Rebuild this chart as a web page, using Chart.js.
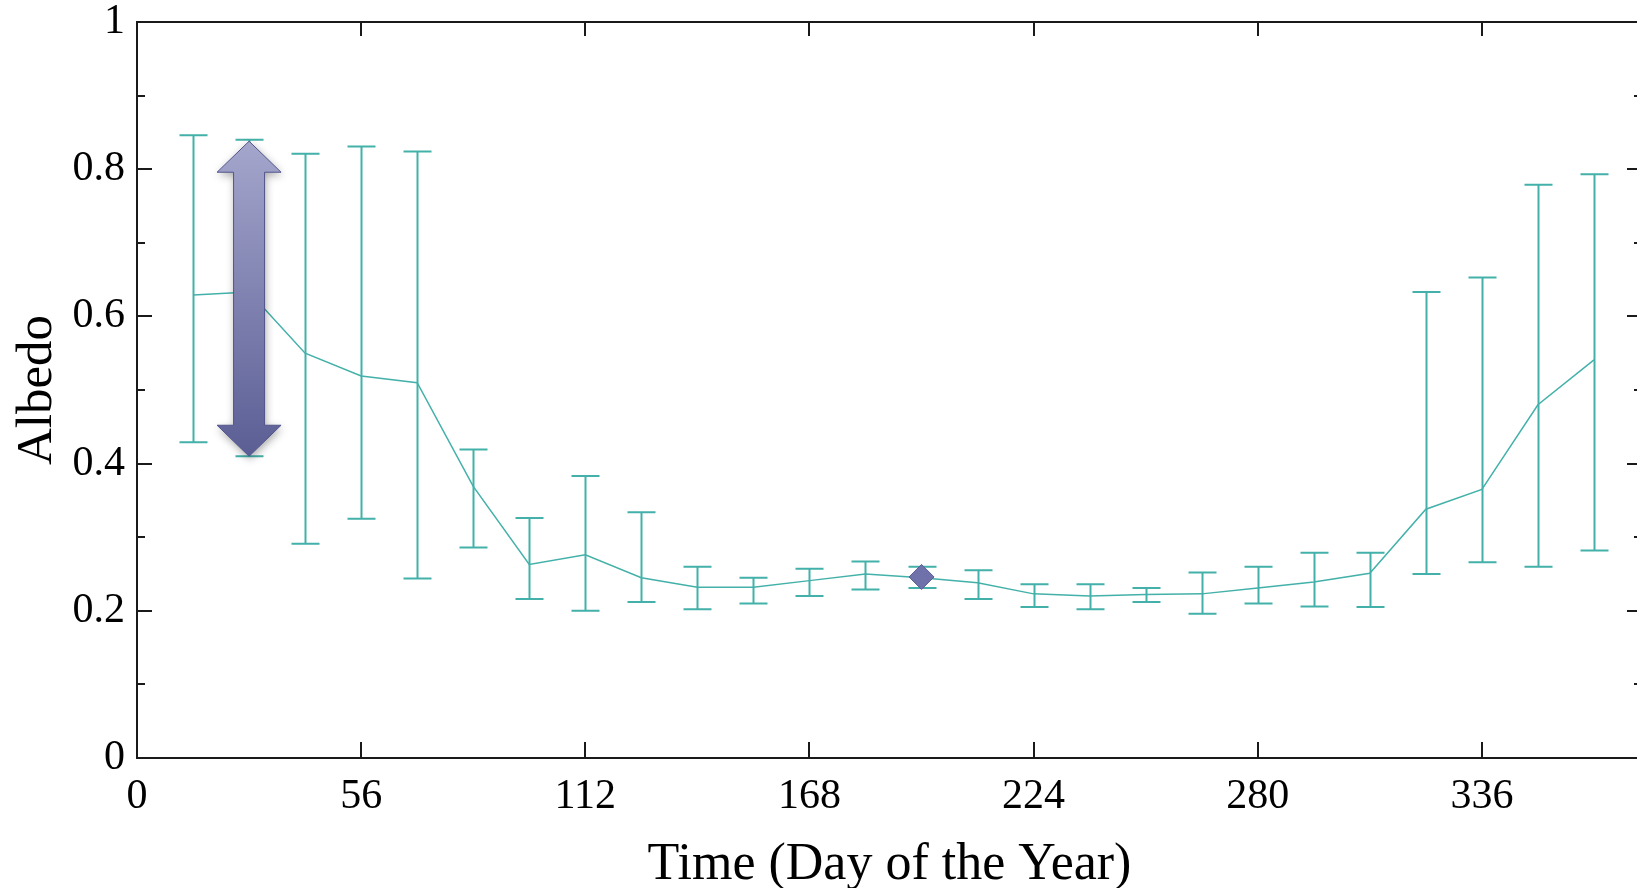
<!DOCTYPE html>
<html>
<head>
<meta charset="utf-8">
<script src="https://cdn.jsdelivr.net/npm/chart.js@4.4.1/dist/chart.umd.min.js"></script>
<style>
    html, body { margin: 0; padding: 0; background: #fff; overflow: hidden; }
    #albedoChart { display: block; }
</style>
</head>
<body>
<canvas id="albedoChart" width="1660" height="900" style="width:1660px;height:900px"></canvas>
<script>
// Day of year for each sample
var days = [14, 28, 42, 56, 70, 84, 98, 112, 126, 140, 154, 168, 182,
            196, 210, 224, 238, 252, 266, 280, 294, 308, 322, 336, 350, 364];
// Mean albedo
var albedoMean = [0.629, 0.633, 0.550, 0.519, 0.510, 0.369, 0.263, 0.276, 0.245, 0.232, 0.232, 0.241, 0.250,
                  0.245, 0.238, 0.223, 0.220, 0.222, 0.223, 0.231, 0.239, 0.251, 0.338, 0.365, 0.480, 0.541];
// Error bar ends
var albedoUpper = [0.846, 0.840, 0.821, 0.831, 0.824, 0.419, 0.326, 0.383, 0.334, 0.260, 0.245, 0.257, 0.267,
                   0.260, 0.255, 0.236, 0.236, 0.231, 0.252, 0.260, 0.279, 0.279, 0.633, 0.653, 0.779, 0.793];
var albedoLower = [0.429, 0.410, 0.291, 0.325, 0.244, 0.286, 0.216, 0.200, 0.212, 0.202, 0.210, 0.220, 0.229,
                   0.231, 0.216, 0.205, 0.202, 0.212, 0.196, 0.210, 0.206, 0.205, 0.250, 0.266, 0.260, 0.282];

// Axis ticks
var xTicks = [0, 56, 112, 168, 224, 280, 336];
var yTicks = [0, 0.2, 0.4, 0.6, 0.8, 1];
var yTickLabels = ['0', '0.2', '0.4', '0.6', '0.8', '1'];
var yMinorTicks = [0.1, 0.3, 0.5, 0.7, 0.9];

// Annotations: range arrow and diamond marker
var arrowDay = [28];
var arrowRange = [0.41, 0.838];
var markerDay = [196];
var markerValue = [0.246];

var teal = '#43b1a9';
var serif = "'Liberation Serif', 'Times New Roman', serif";

// error bars with caps
var errorBars = {
    id: 'errorBars',
    beforeDatasetsDraw: function (chart) {
        var ctx = chart.ctx, xs = chart.scales.x, ys = chart.scales.y;
        ctx.save();
        ctx.strokeStyle = teal;
        ctx.lineWidth = 2;
        for (var i = 0; i < days.length; i++) {
            var px = Math.round(xs.getPixelForValue(days[i])) + 0.5;
            var top = ys.getPixelForValue(albedoUpper[i]);
            var bot = ys.getPixelForValue(albedoLower[i]);
            ctx.beginPath();
            ctx.moveTo(px, top); ctx.lineTo(px, bot);
            ctx.moveTo(px - 14, top); ctx.lineTo(px + 14, top);
            ctx.moveTo(px - 14, bot); ctx.lineTo(px + 14, bot);
            ctx.stroke();
        }
        ctx.restore();
    }
};

// double headed arrow
var rangeArrow = {
    id: 'rangeArrow',
    afterDatasetsDraw: function (chart) {
        var ctx = chart.ctx, xs = chart.scales.x, ys = chart.scales.y;
        var cx = xs.getPixelForValue(arrowDay[0]);
        var y1 = ys.getPixelForValue(arrowRange[1]);
        var y2 = ys.getPixelForValue(arrowRange[0]);
        var head = 31, hw = 32, sw = 15.5;
        ctx.save();
        ctx.beginPath();
        ctx.moveTo(cx, y1);
        ctx.lineTo(cx + hw, y1 + head);
        ctx.lineTo(cx + sw, y1 + head);
        ctx.lineTo(cx + sw, y2 - head);
        ctx.lineTo(cx + hw, y2 - head);
        ctx.lineTo(cx, y2);
        ctx.lineTo(cx - hw, y2 - head);
        ctx.lineTo(cx - sw, y2 - head);
        ctx.lineTo(cx - sw, y1 + head);
        ctx.lineTo(cx - hw, y1 + head);
        ctx.closePath();
        var g = ctx.createLinearGradient(0, y1, 0, y2);
        g.addColorStop(0, '#a4a6cc');
        g.addColorStop(1, '#5b5e94');
        ctx.shadowColor = 'rgba(0,0,0,0.35)';
        ctx.shadowBlur = 8;
        ctx.shadowOffsetX = 1;
        ctx.shadowOffsetY = 3;
        ctx.fillStyle = g;
        ctx.fill();
        ctx.shadowColor = 'transparent';
        ctx.strokeStyle = '#52558c';
        ctx.lineWidth = 1;
        ctx.stroke();
        ctx.restore();
    }
};

// box frame with inward ticks
var frame = {
    id: 'frame',
    afterDraw: function (chart) {
        var ctx = chart.ctx, a = chart.chartArea, xs = chart.scales.x, ys = chart.scales.y;
        ctx.save();
        ctx.strokeStyle = '#1a1a1a';
        ctx.lineWidth = 2;
        ctx.strokeRect(a.left, a.top, a.right - a.left, a.bottom - a.top);
        ctx.beginPath();
        xTicks.forEach(function (v) {
            var px = Math.round(xs.getPixelForValue(v));
            ctx.moveTo(px, a.bottom); ctx.lineTo(px, a.bottom - 16);
            ctx.moveTo(px, a.top); ctx.lineTo(px, a.top + 14);
        });
        yTicks.forEach(function (v) {
            var py = Math.round(ys.getPixelForValue(v));
            ctx.moveTo(a.left, py); ctx.lineTo(a.left + 15, py);
            ctx.moveTo(a.right, py); ctx.lineTo(a.right - 15, py);
        });
        yMinorTicks.forEach(function (v) {
            var py = Math.round(ys.getPixelForValue(v));
            ctx.moveTo(a.left, py); ctx.lineTo(a.left + 8, py);
            ctx.moveTo(a.right, py); ctx.lineTo(a.right - 8, py);
        });
        ctx.stroke();
        ctx.restore();
    }
};

var ctx = document.getElementById('albedoChart').getContext('2d');
var albedoChart = new Chart(ctx, {
    type: 'line',
    data: {
        datasets: [{
            label: 'Albedo',
            data: days.map(function (d, i) { return { x: d, y: albedoMean[i] }; }),
            borderColor: teal,
            borderWidth: 1.5,
            pointRadius: 0,
            tension: 0,
            order: 2
        }, {
            type: 'scatter',
            label: 'Marker',
            data: markerDay.map(function (d, i) { return { x: d, y: markerValue[i] }; }),
            pointStyle: 'rectRot',
            pointRadius: 12.5,
            backgroundColor: '#6f71aa',
            borderColor: '#5a5c94',
            borderWidth: 1,
            order: 1
        }]
    },
    options: {
        responsive: false,
        animation: false,
        layout: { padding: { top: 22, right: 18, left: 0, bottom: 0 } },
        plugins: {
            legend: { display: false },
            tooltip: { enabled: false }
        },
        scales: {
            x: {
                type: 'linear',
                min: 0,
                max: 376,
                afterBuildTicks: function (s) { s.ticks = xTicks.map(function (v) { return { value: v }; }); },
                afterFit: function (s) { s.height = 142; s.paddingLeft = 0; s.paddingRight = 0; },
                grid: { display: false, drawTicks: false },
                border: { display: false },
                ticks: {
                    color: '#000',
                    font: { family: serif, size: 42 },
                    padding: 14,
                    maxRotation: 0,
                    autoSkip: false
                },
                title: {
                    display: true,
                    text: 'Time (Day of the Year)',
                    color: '#000',
                    font: { family: serif, size: 52 },
                    padding: { top: 0, bottom: 3 }
                }
            },
            y: {
                min: 0,
                max: 1,
                afterBuildTicks: function (s) { s.ticks = yTicks.map(function (v) { return { value: v }; }); },
                afterFit: function (s) { s.width = 137; s.paddingTop = 0; s.paddingBottom = 0; },
                grid: { display: false, drawTicks: false },
                border: { display: false },
                ticks: {
                    color: '#000',
                    font: { family: serif, size: 42 },
                    padding: 12,
                    callback: function (v, i) { return yTickLabels[i]; }
                },
                title: {
                    display: true,
                    text: 'Albedo',
                    color: '#000',
                    font: { family: serif, size: 51 },
                    padding: { top: 7, bottom: 0 }
                }
            }
        }
    },
    plugins: [errorBars, rangeArrow, frame]
});
</script>
</body>
</html>
